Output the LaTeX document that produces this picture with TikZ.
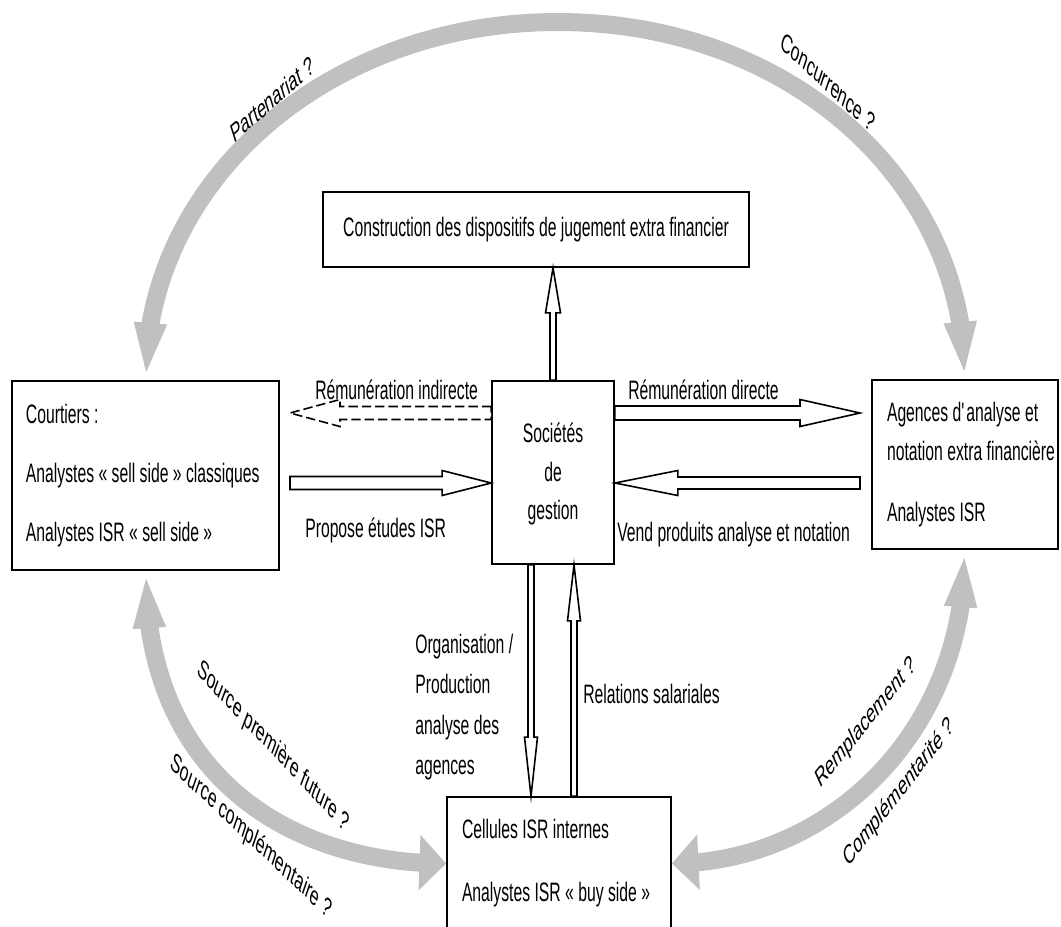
\documentclass[tikz,border=0pt]{standalone}
\usepackage{fontspec}
\setmainfont{Liberation Sans}[FakeStretch=0.59]
\newfontfamily\lblfont{Liberation Sans}
\usetikzlibrary{arrows.meta,bending,calc}
\definecolor{arcgray}{RGB}{192,192,192}
% hollow horizontal arrow: tail, tip, shaft half, head half, head length (px), direction sign, style
\newcommand\hollowH[7]{%
  \path[hollow,#7] let \p1=(#1), \p2=(#2), \n1={\x2-(#6)*#5*0.75pt} in
    ({\x1},{\y1+#3*0.75pt}) -- ({\n1},{\y1+#3*0.75pt}) -- ({\n1},{\y1+#4*0.75pt})
    -- ({\x2},{\y1}) -- ({\n1},{\y1-#4*0.75pt}) -- ({\n1},{\y1-#3*0.75pt})
    -- ({\x1},{\y1-#3*0.75pt}) -- cycle;}
% hollow vertical arrow
\newcommand\hollowV[7]{%
  \path[hollow,#7] let \p1=(#1), \p2=(#2), \n1={\y2-(#6)*#5*0.75pt} in
    ({\x1+#3*0.75pt},{\y1}) -- ({\x1+#3*0.75pt},{\n1}) -- ({\x1+#4*0.75pt},{\n1})
    -- ({\x1},{\y2}) -- ({\x1-#4*0.75pt},{\n1}) -- ({\x1-#3*0.75pt},{\n1})
    -- ({\x1-#3*0.75pt},{\y1}) -- cycle;}
\begin{document}
\begin{tikzpicture}[x=0.75pt,y=-0.75pt,
  box/.style={draw=black, line width=1.3pt, fill=white, inner ysep=0pt, font=\fontsize{20pt}{29pt}\selectfont},
  lbl/.style={font=\fontsize{20pt}{29pt}\selectfont, inner sep=0pt, align=left},
  rlbl/.style={font=\lblfont\fontsize{20pt}{24pt}\selectfont, inner sep=0pt, transform shape},
  band/.style={draw=arcgray, line width=13.5pt},
  hollow/.style={draw=black, fill=white, line width=1.2pt},
]
\useasboundingbox (0,0) rectangle (1061,926);

% boxes
\node[box, minimum width=319.5pt, minimum height=56.25pt] (top) at (536,229.5)
  {Construction des dispositifs de jugement extra financier};
\node[box, text width=179.25pt, inner xsep=10.5pt, align=flush left, minimum height=141.75pt] (court) at (145.5,475.5)
  {Courtiers :\\[15.25pt]\mbox{Analystes « sell side » classiques}\\[15.25pt]\mbox{Analystes ISR « sell side »}};
\node[box, minimum width=91.5pt, minimum height=137.25pt, align=center] (soc) at (553,472.5)
  {\rule{0pt}{17pt}Sociétés\\de\\gestion};
\node[box, text width=117pt, inner xsep=11.25pt, align=flush left, minimum height=126.75pt] (ag) at (965,464.5)
  {\mbox{Agences d\textquotesingle analyse et}\\\mbox{notation extra financière}\\[16.75pt]Analystes ISR};
\node[box, text width=145.5pt, inner xsep=11.25pt, align=flush left, minimum height=99.75pt] (cell) at (559,863.5)
  {Cellules ISR internes\\[18.25pt]\mbox{Analystes ISR « buy side »}};

% gray arcs
\draw[band, {Triangle[width=21pt,length=43pt]}-{Triangle[width=21pt,length=43pt]}]
  (court.north) .. controls +(0,-200) and +(-230,0) .. (558,22)
  .. controls +(230,0) and +(0,-200) .. (ag.north);
\draw[band, {Triangle[width=21pt,length=43pt]}-{Triangle[width=40.5pt,length=20pt]}]
  (court.south) .. controls +(0,210) and +(-150,0) .. (cell.west);
\draw[band, {Triangle[width=40.5pt,length=20pt]}-{Triangle[width=21pt,length=43pt]}]
  (cell.east) .. controls +(150,0) and +(0,190) .. (ag.south);

% free ends of hollow arrows
\coordinate (rI) at (290,413);
\coordinate (pE) at (290,483);
\coordinate (rD) at (860,413);
\coordinate (vP) at (860,483);
\coordinate (dA) at ($(soc.south)+(-22,0)$);
\coordinate (uA) at ($(soc.south)+(21,0)$);

\hollowH{soc.west |- rI}{rI}{6.5}{13.5}{50}{-1}{dash pattern=on 7pt off 3pt}
\hollowH{pE}{soc.west |- pE}{6.5}{12.5}{49}{1}{}
\hollowH{soc.east |- rD}{rD}{7}{13.5}{60}{1}{}
\hollowH{vP}{soc.east |- vP}{6}{12.5}{63}{-1}{}
\hollowV{soc.north}{soc.north |- top.south}{3}{7.5}{45}{1}{}
\hollowV{dA}{dA |- cell.north}{3}{6.5}{59}{-1}{}
\hollowV{cell.north -| uA}{uA}{3}{6.5}{56}{1}{}

% connector labels
\node[lbl, anchor=base west] (lRI) at (315,399) {Rémunération indirecte};
\node[lbl, anchor=base west] (lPE) at (305,537) {Propose études ISR};
\node[lbl, anchor=base west] (lRD) at (628,399) {Rémunération directe};
\node[lbl, anchor=base west] (lVP) at (617,541) {Vend produits analyse et notation};
\node[lbl, anchor=base west] (lRS) at (583,703) {Relations salariales};
\node[lbl, anchor=north west] (lOP) at (415,634) {Organisation /\\[1.2pt]Production\\[1.2pt]analyse des\\[1.2pt]agences};

% arc labels
\begin{scope}[shift={(272,99)},xscale=0.6]\node[rlbl,rotate=27.9] (tPart) {Partenariat ?};\end{scope}
\begin{scope}[shift={(828,82)},xscale=0.6]\node[rlbl,rotate=-29.4] (tConc) {Concurrence ?};\end{scope}
\begin{scope}[shift={(273,747)},xscale=0.6]\node[rlbl,rotate=-32.5] (tSPF) {Source première future ?};\end{scope}
\begin{scope}[shift={(251,837)},xscale=0.6]\node[rlbl,rotate=-29.7] (tSC) {Source complémentaire ?};\end{scope}
\begin{scope}[shift={(866,723)},xscale=0.6]\node[rlbl,rotate=36.8] (tRemp) {Remplacement ?};\end{scope}
\begin{scope}[shift={(899,793)},xscale=0.6]\node[rlbl,rotate=37.9] (tCompl) {Complémentarité ?};\end{scope}
\end{tikzpicture}
\end{document}
